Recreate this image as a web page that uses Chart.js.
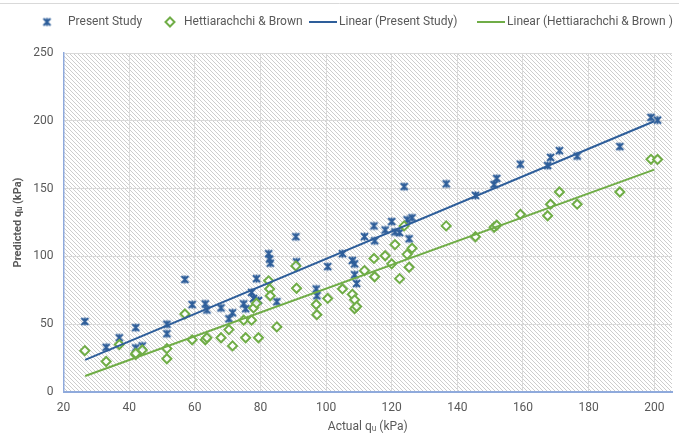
<!DOCTYPE html>
<html><head><meta charset="utf-8">
<script src="https://cdn.jsdelivr.net/npm/chart.js@4.4.0/dist/chart.umd.min.js"></script>
<style>html,body{margin:0;padding:0;background:#fff;overflow:hidden}</style>
</head><body>
<canvas id="c" width="679" height="438"></canvas>
<script>
// ---- data ----
const actualQu = [26.5,33,37,42,42,44,51.5,51.5,57,59.2,63.2,63.7,68,70.4,71.5,74.9,75.5,77.3,77.9,78.8,79.4,82.5,82.8,83,85,90.8,91,97,97.2,100.5,105,108,108.7,108.7,109.3,111.7,114.6,114.8,118,120,121,122.4,123.8,124.7,125.3,126.2,136.6,145.5,151.2,152,159.2,167.5,168.4,171.1,176.5,189.5,199,201];
const presentStudy = [52,33,40,47.5,32.5,34,50,43,83,64.5,65,60.5,62,54,58.4,65,61.4,73.5,69,83.6,67.5,102,98,95,66.6,114.5,96,76,71,92.5,102,97,94.5,86.5,80,114.6,122.5,111.5,119.5,125.7,118,117.5,151.5,127,113,128.5,153.5,145,153,157.5,168,167,173,178,174,181,202.5,200.5];
const hettiarachchiBrown = [30.5,22.5,35,27.5,28.5,31,32,24.5,57.5,38.5,38.5,40,40,46,34,53,40,53,62,65.5,40,82,76,71,48,93,76.5,64.5,57,69,76,72,68,61.5,63,89.5,98.5,85,100.5,94.5,108.7,83.6,122.5,101.5,92,106,122.5,114.5,121.5,123,131,130,138.5,147.5,138.5,147.5,171.6,171.5];
const trendActual = [26.6, 200];
const trendPresent = [23.7, 199.7];
const trendHB = [11.8, 164];
const xTickValues = [20,40,60,80,100,120,140,160,180,200];
const yTickValues = [0,50,100,150,200,250];
const seriesNames = ['Present Study','Hettiarachchi & Brown','Linear (Present Study)','Linear (Hettiarachchi & Brown )'];

const BLUE = '#2E5E9A';
const GREEN = '#70AD47';
const FONT = "'Liberation Sans Narrow','Roboto','Liberation Sans',sans-serif";

function starImg(color){
  const c=document.createElement('canvas'); c.width=11; c.height=11;
  const g=c.getContext('2d'); g.strokeStyle=color; g.lineWidth=2;
  g.beginPath();
  g.moveTo(2,2); g.lineTo(9,9);
  g.moveTo(9,2); g.lineTo(2,9);
  g.moveTo(5.5,1.5); g.lineTo(5.5,9.5);
  g.stroke();
  return c;
}
const star = starImg(BLUE);

function pts(xs, ys){ return xs.map((x,i)=>({x:x, y:ys[i]})); }

const hatchPlugin = {
  id:'hatch',
  beforeDraw(chart){
    const {ctx, chartArea:a} = chart;
    const p=document.createElement('canvas'); p.width=4; p.height=4;
    const g=p.getContext('2d'); g.fillStyle='#fff'; g.fillRect(0,0,4,4);
    g.fillStyle='#cdcdcd';
    for(let i=0;i<4;i++) g.fillRect(i,i,1,1);
    ctx.save();
    ctx.fillStyle='#fff'; ctx.fillRect(0,0,chart.width,chart.height);
    ctx.strokeStyle='#d9d9d9'; ctx.lineWidth=1;
    ctx.beginPath(); ctx.moveTo(0,3.5); ctx.lineTo(chart.width,3.5); ctx.stroke();
    ctx.fillStyle=ctx.createPattern(p,'repeat');
    ctx.fillRect(a.left,a.top,a.right-a.left,a.bottom-a.top);
    ctx.restore();
  }
};

const legendPlugin = {
  id:'customLegend',
  afterDraw(chart){
    const ctx=chart.ctx; const y=22;
    ctx.save();
    ctx.font='12px '+FONT; ctx.fillStyle='#595959'; ctx.textBaseline='middle';
    ctx.drawImage(star, 47-5.5, y-5.5);
    ctx.fillText(seriesNames[0], 68, y);
    ctx.beginPath(); ctx.moveTo(170,y-4.5); ctx.lineTo(174.5,y); ctx.lineTo(170,y+4.5); ctx.lineTo(165.5,y); ctx.closePath();
    ctx.fillStyle='#fff'; ctx.fill(); ctx.strokeStyle=GREEN; ctx.lineWidth=2; ctx.stroke();
    ctx.fillStyle='#595959'; ctx.fillText(seriesNames[1], 184, y);
    ctx.beginPath(); ctx.moveTo(309,y); ctx.lineTo(337,y); ctx.strokeStyle=BLUE; ctx.lineWidth=2; ctx.stroke();
    ctx.fillText(seriesNames[2], 339, y);
    ctx.beginPath(); ctx.moveTo(477,y); ctx.lineTo(505,y); ctx.strokeStyle=GREEN; ctx.lineWidth=2; ctx.stroke();
    ctx.fillText(seriesNames[3], 507, y);
    ctx.restore();
  }
};

new Chart(document.getElementById('c'), {
  type:'scatter',
  data:{datasets:[
    {label:seriesNames[0], data:pts(actualQu,presentStudy), pointStyle:star, pointRadius:6, order:3},
    {label:seriesNames[1], data:pts(actualQu,hettiarachchiBrown), pointStyle:'rectRot', pointRadius:4.5, borderWidth:2, borderColor:GREEN, backgroundColor:'rgba(255,255,255,0.85)', order:2},
    {label:seriesNames[2], data:pts(trendActual,trendPresent), showLine:true, pointRadius:0, borderColor:BLUE, borderWidth:2, order:1},
    {label:seriesNames[3], data:pts(trendActual,trendHB), showLine:true, pointRadius:0, borderColor:GREEN, borderWidth:2, order:0}
  ]},
  options:{
    responsive:false, animation:false, devicePixelRatio:1,
    events:[],
    layout:{padding:{top:53,left:8,right:0,bottom:0}},
    plugins:{legend:{display:false}, tooltip:{enabled:false}},
    scales:{
      x:{type:'linear', min:20, max:205.4,
        afterBuildTicks(s){ s.ticks = xTickValues.map(v=>({value:v})); },
        afterFit(s){ s.height = 46; },
        ticks:{color:'#595959', font:{family:FONT,size:12}, padding:9, maxRotation:0},
        grid:{color:'#d9d9d9', drawTicks:false},
        border:{color:'#8FAADC', width:2},
        title:{display:true, text:'Actual qᵤ (kPa)', color:'#595959', font:{family:FONT,size:12}, padding:{top:2,bottom:4}}
      },
      y:{type:'linear', min:0, max:250,
        afterBuildTicks(s){ s.ticks = yTickValues.map(v=>({value:v})); },
        afterFit(s){ s.width = 55.5; },
        ticks:{color:'#595959', font:{family:FONT,size:12}, padding:10},
        grid:{color:'#d9d9d9', drawTicks:false},
        border:{color:'#8FAADC', width:1.5},
        title:{display:true, text:'Predicted qᵤ (kPa)', color:'#595959', font:{family:FONT,size:11,weight:'bold'}, padding:{top:4,bottom:4}}
      }
    }
  },
  plugins:[hatchPlugin, legendPlugin]
});
</script>
</body></html>
